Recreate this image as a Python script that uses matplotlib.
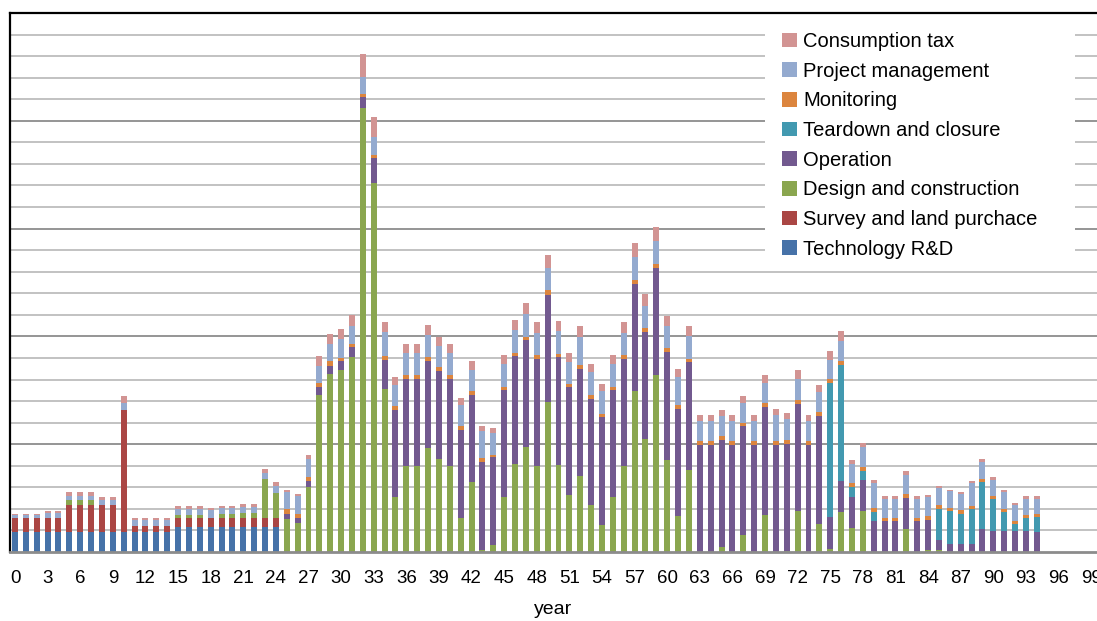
import matplotlib
matplotlib.use("Agg")
import matplotlib.pyplot as plt
from matplotlib.patches import Rectangle
import numpy as np

plt.rcParams["font.family"] = ["Liberation Sans", "DejaVu Sans"]

years = list(range(100))

# segment heights, one value per year (0..99), in gridline units
tech_rd = [0.91] * 15 + [1.14] * 10 + [0.0] * 75
survey_land = [0.69] * 5 + [1.28] * 5 + [5.66] + [0.28] * 4 + [0.46] * 10 + [0.0] * 75
design_construction = [
    0, 0, 0, 0, 0, 0.20, 0.20, 0.20, 0, 0,
    0, 0, 0, 0, 0, 0.13, 0.13, 0.13, 0, 0.14,
    0.14, 0.20, 0.20, 1.79, 1.15, 1.54, 1.34, 3.01, 7.30, 8.26,
    8.42, 9.06, 20.61, 17.11, 7.57, 2.53, 4.00, 4.00, 4.82, 4.33,
    4.00, 1.60, 3.23, 0.11, 0.31, 2.53, 4.10, 4.85, 3.97, 6.98,
    4.05, 2.66, 3.54, 2.16, 1.27, 2.53, 3.97, 7.48, 5.25, 8.22,
    4.28, 1.68, 3.82, 0, 0, 0.21, 0, 0.80, 0, 1.73,
    0, 0.06, 1.92, 0, 1.30, 0.15, 1.84, 1.11, 1.92, 0,
    0, 0, 1.08, 0, 0.07, 0.11, 0, 0, 0, 0,
    0, 0, 0, 0, 0, 0, 0, 0, 0, 0,
]
operation = [0.0] * 25 + [
    0.24, 0.25, 0.30, 0.37, 0.39,
    0.45, 0.43, 0.48, 1.15, 1.35, 4.04, 4.04, 4.04, 4.05, 4.05,
    4.04, 4.04, 4.03, 4.06, 4.08, 4.97, 4.97, 4.96, 5.00, 4.95,
    4.98, 4.97, 4.96, 4.95, 4.97, 4.97, 5.00, 4.96, 4.97, 4.97,
    4.98, 4.97, 4.97, 4.94, 4.94, 4.97, 4.94, 5.03, 4.94, 4.98,
    4.94, 4.96, 4.96, 4.94, 4.99, 1.47, 1.45, 1.44, 1.43, 1.42,
    1.42, 1.42, 1.42, 1.42, 1.43, 0.43, 0.37, 0.39, 0.37, 1.07,
    0.99, 0.96, 0.96, 0.96, 0.91, 0, 0, 0, 0, 0,
]
teardown = [0.0] * 75 + [
    6.22, 5.40, 0.46, 0.43, 0.43,
    0, 0, 0, 0, 0, 1.47, 1.51, 1.39, 1.62, 2.16,
    1.47, 0.89, 0.34, 0.62, 0.71, 0, 0, 0, 0, 0,
]
monitoring = [0.0] * 10 + [0.03] + [0.0] * 14 + [
    0.20, 0.17, 0.15, 0.15, 0.19,
    0.14, 0.17, 0.13, 0.17, 0.18, 0.18, 0.18, 0.18, 0.19, 0.18,
    0.18, 0.19, 0.19, 0.19, 0.12, 0.15, 0.16, 0.18, 0.17, 0.20,
    0.17, 0.18, 0.19, 0.19, 0.17, 0.15, 0.17, 0.19, 0.17, 0.18,
    0.18, 0.18, 0.16, 0.19, 0.19, 0.18, 0.19, 0.15, 0.19, 0.20,
    0.19, 0.19, 0.18, 0.19, 0.19, 0.18, 0.18, 0.19, 0.17, 0.17,
    0.18, 0.18, 0.19, 0.18, 0.18, 0.15, 0.16, 0.15, 0.16, 0.16,
    0.15, 0.16, 0.15, 0.15, 0.16, 0, 0, 0, 0, 0,
]
project_mgmt = [
    0.10, 0.10, 0.10, 0.21, 0.21, 0.23, 0.23, 0.23, 0.23, 0.23,
    0.29, 0.29, 0.29, 0.29, 0.29, 0.28, 0.28, 0.28, 0.33, 0.29,
    0.29, 0.31, 0.31, 0.27, 0.33, 0.80, 0.82, 0.85, 0.83, 0.81,
    0.87, 0.84, 0.81, 0.81, 1.09, 1.01, 1.01, 1.01, 0.99, 0.98,
    1.01, 1.00, 1.00, 1.23, 1.01, 1.07, 1.05, 1.05, 1.00, 1.02,
    1.03, 1.02, 1.28, 1.03, 1.04, 1.07, 1.00, 1.03, 1.03, 1.04,
    1.02, 1.29, 1.05, 0.94, 0.94, 0.93, 0.94, 0.93, 0.94, 0.93,
    1.22, 0.96, 0.96, 0.94, 0.92, 0.90, 0.90, 0.88, 0.90, 1.17,
    0.87, 0.87, 0.90, 0.87, 0.87, 0.81, 0.77, 0.76, 1.05, 0.77,
    0.74, 0.77, 0.74, 0.74, 0.69, 0, 0, 0, 0, 0,
]
consumption_tax = [
    0.06, 0.06, 0.06, 0.08, 0.08, 0.14, 0.14, 0.14, 0.13, 0.13,
    0.33, 0.10, 0.10, 0.10, 0.10, 0.12, 0.12, 0.12, 0.12, 0.12,
    0.12, 0.12, 0.12, 0.20, 0.15, 0.11, 0.12, 0.20, 0.42, 0.48,
    0.46, 0.51, 1.08, 0.94, 0.46, 0.36, 0.43, 0.43, 0.46, 0.43,
    0.43, 0.31, 0.39, 0.27, 0.23, 0.40, 0.49, 0.51, 0.51, 0.64,
    0.48, 0.40, 0.49, 0.40, 0.36, 0.40, 0.51, 0.67, 0.55, 0.68,
    0.50, 0.37, 0.46, 0.30, 0.30, 0.31, 0.30, 0.34, 0.30, 0.38,
    0.28, 0.28, 0.40, 0.30, 0.35, 0.42, 0.46, 0.20, 0.21, 0.13,
    0.11, 0.11, 0.15, 0.11, 0.11, 0.10, 0.08, 0.11, 0.11, 0.17,
    0.13, 0.11, 0.08, 0.11, 0.11, 0, 0, 0, 0, 0,
]

series = [
    ("Technology R&D", tech_rd, "#4672A8"),
    ("Survey and land purchace", survey_land, "#AA4644"),
    ("Design and construction", design_construction, "#8AA64F"),
    ("Operation", operation, "#72598F"),
    ("Teardown and closure", teardown, "#4299B0"),
    ("Monitoring", monitoring, "#DC853E"),
    ("Project management", project_mgmt, "#94AACF"),
    ("Consumption tax", consumption_tax, "#D29493"),
]

fig = plt.figure(figsize=(10.97, 6.21), dpi=100)
ax = fig.add_axes([10 / 1097, 1 - 552 / 621, 1 - 10 / 1097, (552 - 13) / 621])

bottom = np.zeros(len(years))
handles = []
for name, values, color in series:
    vals = np.array(values, dtype=float)
    bars = ax.bar(years, vals, bottom=bottom, width=0.55, color=color,
                  linewidth=0, label=name, zorder=3)
    handles.append(bars)
    bottom += vals

ax.set_xlim(-0.46, 99.54)
ax.set_ylim(0, 25)

# gridlines: light every unit, darker every fifth
for level in range(1, 25):
    major = level % 5 == 0
    ax.axhline(level, color="#8C8C8C" if major else "#BDBDBD",
               linewidth=1.3, zorder=1)

ax.set_yticks([])
ax.set_xticks(list(range(0, 100, 3)))
ax.tick_params(axis="x", length=0, pad=13, labelsize=13.5)
ax.set_xlabel("year", fontsize=14, labelpad=10)

ax.spines["right"].set_visible(False)
ax.spines["top"].set_color("black")
ax.spines["top"].set_linewidth(1.6)
ax.spines["left"].set_color("black")
ax.spines["left"].set_linewidth(1.6)
ax.spines["bottom"].set_color("#8C8C8C")
ax.spines["bottom"].set_linewidth(2)
ax.spines["bottom"].set_zorder(4)

# white block behind the legend that hides the gridlines
fig.patches.append(Rectangle((765 / 1097, 1 - 265 / 621), 310 / 1097, 240 / 621,
                             transform=fig.transFigure, facecolor="white",
                             edgecolor="none", zorder=1))

leg = fig.legend(handles[::-1], [s[0] for s in series][::-1],
                 loc="upper left", bbox_to_anchor=(782 / 1097, 1 - 32 / 621),
                 frameon=False, fontsize=14.5,
                 handlelength=0.75, handleheight=0.75, handletextpad=0.3,
                 labelspacing=0.53, borderpad=0, borderaxespad=0)
leg.set_zorder(2)

fig.savefig("out.png", dpi=100)
